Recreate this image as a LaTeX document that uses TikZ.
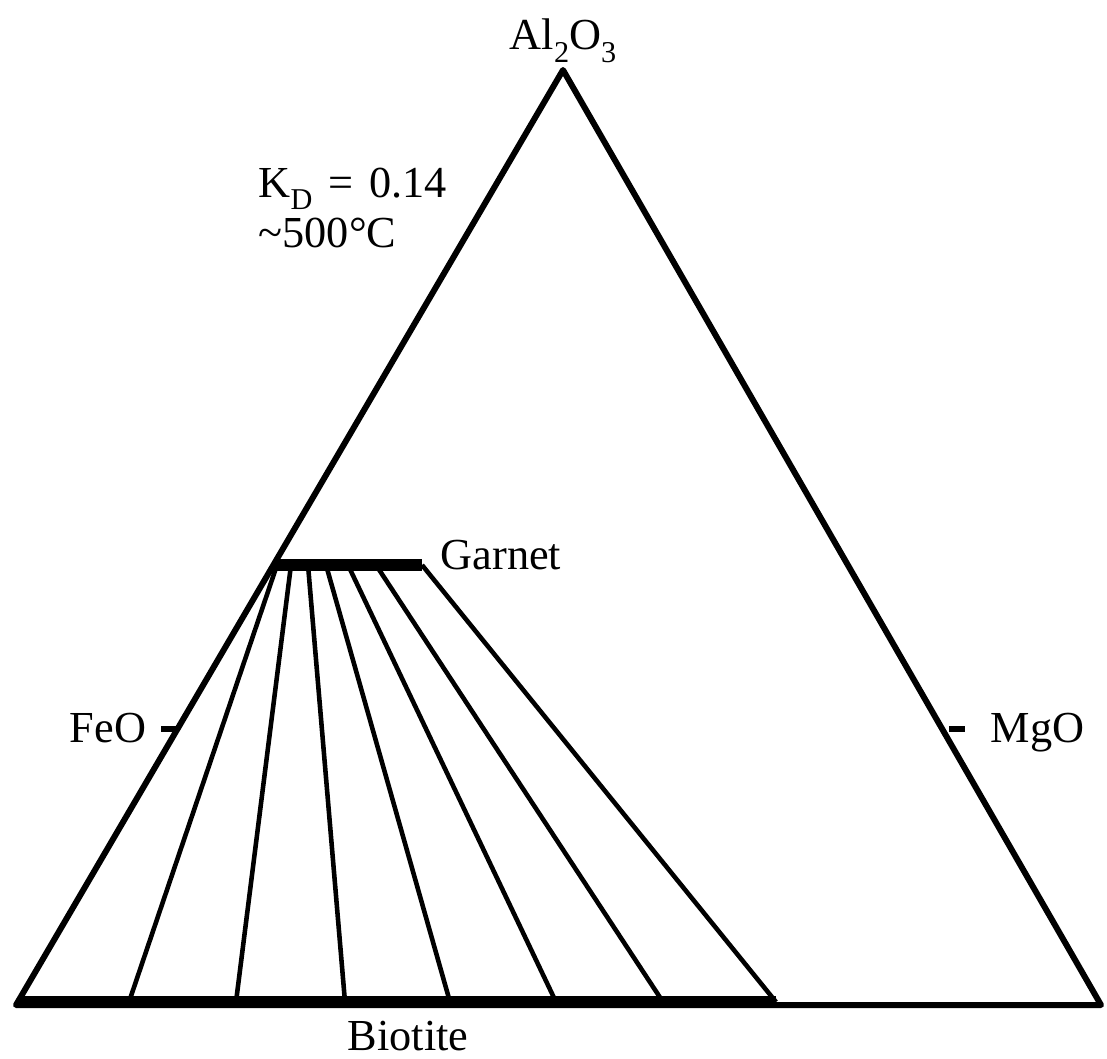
\documentclass[tikz,border=0pt]{standalone}
\usepackage{fontspec}
\setmainfont{Liberation Serif}
\usetikzlibrary{positioning}

\newcommand{\lowsub}[1]{\raisebox{-3.6pt}{\fontsize{8.6}{8.6}\selectfont #1}}

\begin{document}
\begin{tikzpicture}[
  x=0.01cm, y=-0.01cm,
  side/.style={line width=1.7pt, line join=round},
  tie/.style={line width=1.3pt},
  bar/.style={line width=3.4pt},
  lbl/.style={font=\fontsize{12.6}{14.5}\selectfont, inner sep=0pt}]
\useasboundingbox (0,0) rectangle (1107,1058);
% corners of the triangle
\coordinate (al) at (563,70);
\coordinate (fe) at (16,1005);
\coordinate (mg) at (1101,1005);
% garnet end points
\coordinate (g0) at (277,565);
\coordinate (g1) at (291,565);
\coordinate (g2) at (308,565);
\coordinate (g3) at (326,565);
\coordinate (g4) at (348,565);
\coordinate (g5) at (376,565);
\coordinate (g6) at (422,565);
% biotite end points
\coordinate (b0) at (129,1002);
\coordinate (b1) at (236,1002);
\coordinate (b2) at (345,1002);
\coordinate (b3) at (450,1002);
\coordinate (b4) at (556,1002);
\coordinate (b5) at (663,1002);
\coordinate (b6) at (776,1002);
\coordinate (bl) at (19,1002);
% ticks on the sides
\coordinate (fetick) at (177,729);
\coordinate (fetip) at (161,729);
\coordinate (mgtick) at (949,729);
\coordinate (mgtip) at (965,729);

\draw[side] (fe) -- (al) -- (mg) -- cycle;
\draw[bar] (bl) -- (b6);
\draw[bar] (g0) -- (g6);
\draw[tie] (g0) -- (b0);
\draw[tie] (g1) -- (b1);
\draw[tie] (g2) -- (b2);
\draw[tie] (g3) -- (b3);
\draw[tie] (g4) -- (b4);
\draw[tie] (g5) -- (b5);
\draw[tie] (g6) -- (b6);
\draw[side] (fetip) -- (fetick);
\draw[side] (mgtick) -- (mgtip);

\node[lbl, anchor=base] (altxt) at (563,50) {Al\lowsub{2}O\lowsub{3}};
\node[lbl, anchor=base west, align=left] (kdtxt) at (258,248)
  {K\lowsub{D}\hspace{0.36em}=\hspace{0.36em}0.14\\\textasciitilde500°C};
\node[lbl, anchor=base west] (grt) at (440,569) {Garnet};
\node[lbl, anchor=base east] (fetxt) at (147,742) {FeO};
\node[lbl, anchor=base west] (mgtxt) at (990,742) {MgO};
\node[lbl, anchor=base west] (bt) at (347,1050) {Biotite};
\end{tikzpicture}
\end{document}
